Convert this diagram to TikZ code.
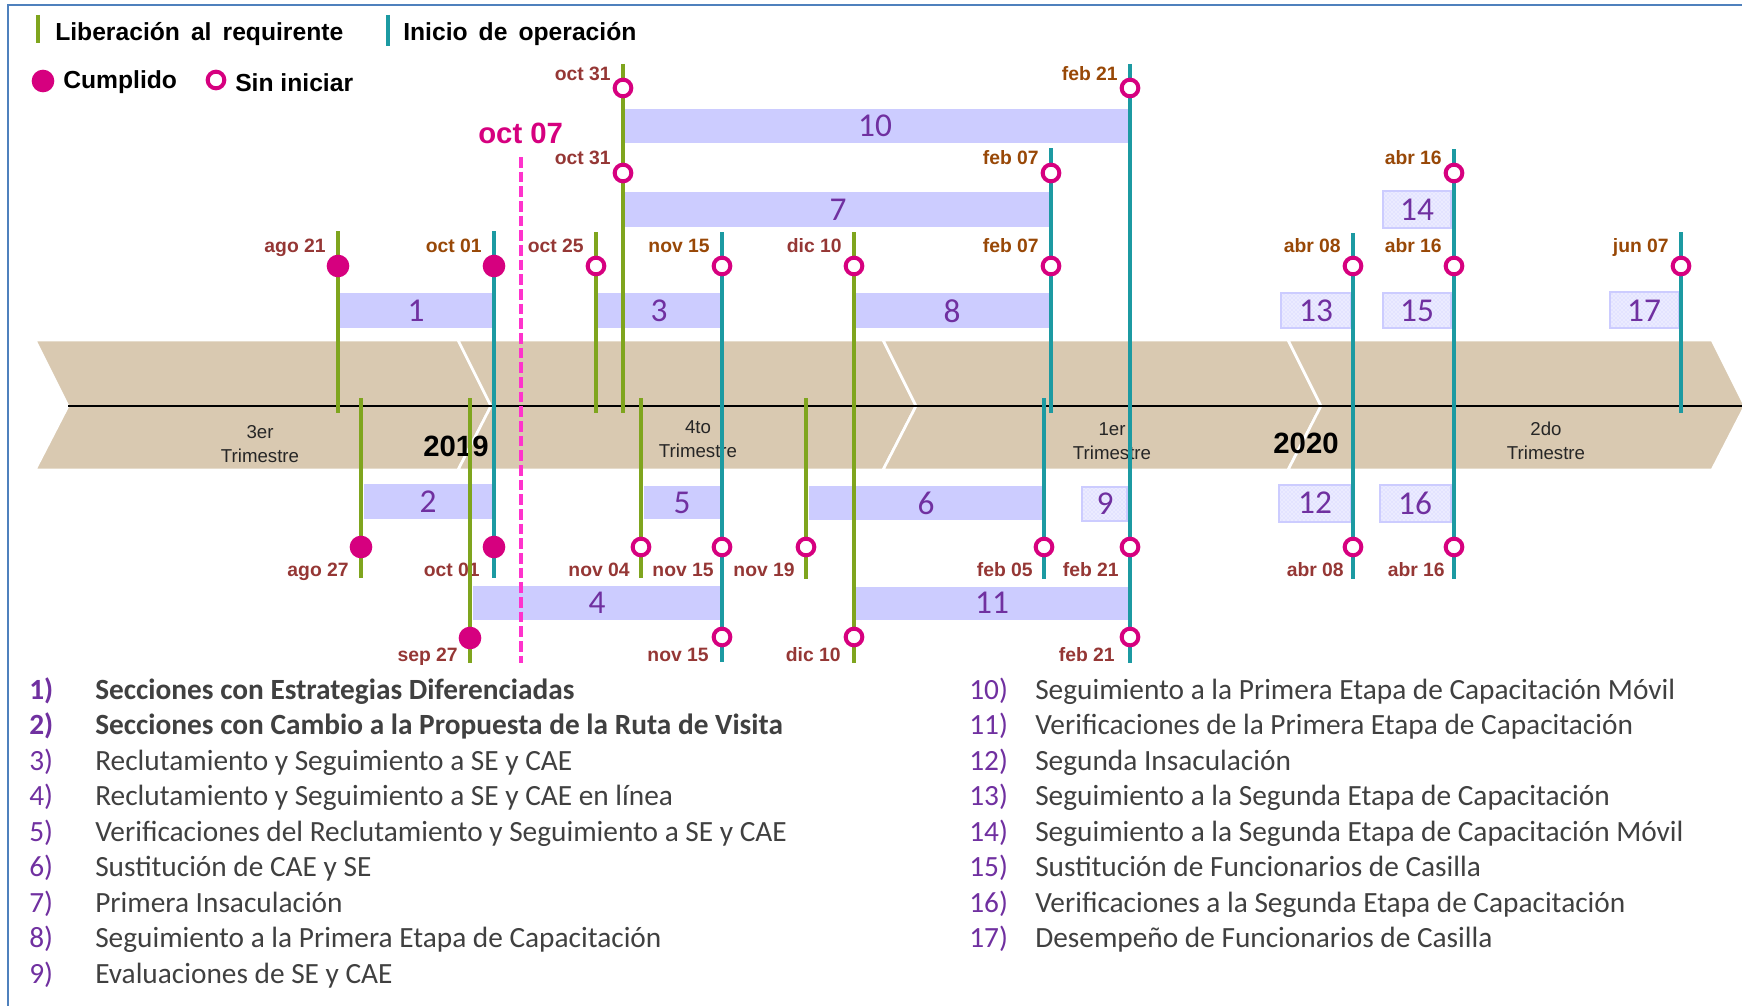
\documentclass[tikz,border=0pt]{standalone}
\usepackage{fontspec}
\setmainfont{Liberation Sans}
\newfontfamily\calib{Carlito}
\usetikzlibrary{patterns}
\definecolor{verde}{HTML}{7FA51E}
\definecolor{turq}{HTML}{1C9AA2}
\definecolor{rosa}{HTML}{D6007F}
\definecolor{rosaclaro}{HTML}{FF33CC}
\definecolor{lila}{HTML}{CCCCFF}
\definecolor{morado}{HTML}{7030A0}
\definecolor{cafe}{HTML}{953735}
\definecolor{naranja}{HTML}{984807}
\definecolor{arena}{HTML}{D9C9B1}
\definecolor{marco}{HTML}{4F81BD}
\newcommand{\nro}[1]{\makebox[49.5pt][l]{\color{morado}#1}}
\newcommand{\esp}{\ \hspace{0.17em}}
\tikzset{lib/.style={draw=verde,line width=3pt},ini/.style={draw=turq,line width=3pt},
hecho/.style={circle,fill=rosa,inner sep=0pt,minimum size=17pt},
pend/.style={circle,draw=rosa,fill=white,line width=3pt,inner sep=0pt,minimum size=12.5pt},
fecha/.style={font=\bfseries\fontsize{14.5}{16}\selectfont,text=cafe,anchor=base east,inner sep=0pt},
fechab/.style={fecha,text=naranja},
barra/.style={fill=lila},
caja/.style={fill=lila!40,draw=lila,line width=0.8pt,postaction={pattern=crosshatch dots,pattern color=lila}},
numb/.style={font=\calib\fontsize{25}{28}\selectfont,text=morado,inner sep=0pt},
trimst/.style={font=\fontsize{14}{18}\selectfont,text=black!85,align=center,anchor=base},
anio/.style={font=\bfseries\fontsize{22}{24}\selectfont,anchor=base,inner sep=0pt},
ley/.style={font=\bfseries\fontsize{18.5}{20}\selectfont,anchor=base west,inner sep=0pt},
elem/.style={font=\calib\fontsize{22}{26}\selectfont,text=black!75,anchor=base west,inner sep=0pt}}

\begin{document}
\begin{tikzpicture}[x=0.75pt,y=-0.75pt]
\useasboundingbox (0,0) rectangle (1742,1006);
\clip (0,0) rectangle (1742,1006);
\draw[marco,line width=1.2pt] (8,5) rectangle (1800,1100);
% leyenda
\draw[lib] (38,15)--(38,43); \node[ley] (l1) at (55,41) {Liberación\esp al\esp requirente};
\draw[ini] (388,15)--(388,46); \node[ley] (l2) at (403,41) {Inicio\esp de\esp operación};
\node[hecho] (l3) at (43,81) {}; \node[ley] (l4) at (63,89) {Cumplido};
\node[pend] (l5) at (216,80) {}; \node[ley] (l6) at (235,92) {Sin iniciar};
% banda de trimestres
\filldraw[arena,draw=white,line width=2pt] (35,340)--(458,340)--(491,406)--(458,470)--(35,470)--(68,406)--cycle;
\filldraw[arena,draw=white,line width=2pt] (458,340)--(883,340)--(916,406)--(883,470)--(458,470)--(491,406)--cycle;
\filldraw[arena,draw=white,line width=2pt] (883,340)--(1288,340)--(1321,406)--(1288,470)--(883,470)--(916,406)--cycle;
\filldraw[arena,draw=white,line width=2pt] (1288,340)--(1712,340)--(1745,406)--(1712,470)--(1288,470)--(1321,406)--cycle;
\node[trimst] (q3) at (260,462) {3er\\Trimestre};
\node[trimst] (q4) at (698,457) {4to\\Trimestre};
\node[trimst] (q1) at (1112,459) {1er\\Trimestre};
\node[trimst] (q2) at (1546,459) {2do\\Trimestre};
\node[anio] (a19) at (456,456) {2019}; \node[anio] (a20) at (1306,453) {2020};
\draw[black,line width=1.5pt] (68,406)--(1742,406);
% barras
\fill[barra] (624,109) rectangle (1128,143); \node[numb] (b10) at (875,126) {10};
\fill[barra] (624,192) rectangle (1049,227); \node[numb] (b7) at (838,210) {7};
\fill[barra] (340,293) rectangle (492,328); \node[numb] (b1) at (416,311) {1};
\fill[barra] (597,293) rectangle (720,328); \node[numb] (b3) at (659,311) {3};
\fill[barra] (856,293) rectangle (1049,328); \node[numb] (b8) at (952,311) {8};
\fill[barra] (364,484) rectangle (492,519); \node[numb] (b2) at (428,502) {2};
\fill[barra] (644,486) rectangle (721,519); \node[numb] (b5) at (682,503) {5};
\fill[barra] (809,486) rectangle (1042,520); \node[numb] (b6) at (926,503) {6};
\fill[barra] (473,586) rectangle (722,620); \node[numb] (b4) at (597,603) {4};
\fill[barra] (856,587) rectangle (1128,620); \node[numb] (b11) at (992,603) {11};
\draw[caja] (1082,487) rectangle (1127,521); \node[numb] (b9) at (1105,504) {9};
\draw[caja] (1279,485) rectangle (1351,522); \node[numb] (b12) at (1315,503) {12};
\draw[caja] (1281,293) rectangle (1351,328); \node[numb] (b13) at (1316,311) {13};
\draw[caja] (1383,191) rectangle (1451,228); \node[numb] (b14) at (1417,210) {14};
\draw[caja] (1383,293) rectangle (1451,328); \node[numb] (b15) at (1417,311) {15};
\draw[caja] (1380,485) rectangle (1451,522); \node[numb] (b16) at (1415,503) {16};
\draw[caja] (1610,292) rectangle (1679,328); \node[numb] (b17) at (1644,311) {17};
% fechas
\node[fecha] (f1) at (611,80) {oct 31}; \node[fechab] (f2) at (1118,80) {feb 21};
\node[fecha] (f3) at (611,164) {oct 31}; \node[fechab] (f4) at (1039,164) {feb 07}; \node[fechab] (f5) at (1442,164) {abr 16};
\node[fecha] (f6) at (326,252) {ago 21}; \node[fechab] (f7) at (482,252) {oct 01}; \node[fecha] (f8) at (584,252) {oct 25};
\node[fechab] (f9) at (710,252) {nov 15}; \node[fecha] (f10) at (842,252) {dic 10}; \node[fechab] (f11) at (1039,252) {feb 07};
\node[fechab] (f12) at (1341,252) {abr 08}; \node[fechab] (f13) at (1442,252) {abr 16}; \node[fechab] (f14) at (1669,252) {jun 07};
\node[fecha] (f15) at (349,576) {ago 27}; \node[fecha] (f16) at (480,576) {oct 01}; \node[fecha] (f17) at (630,576) {nov 04};
\node[fecha] (f18) at (714,576) {nov 15}; \node[fecha] (f19) at (795,576) {nov 19}; \node[fecha] (f20) at (1033,576) {feb 05};
\node[fecha] (f21) at (1119,576) {feb 21}; \node[fecha] (f22) at (1344,576) {abr 08}; \node[fecha] (f23) at (1445,576) {abr 16};
\node[fecha] (f24) at (458,661) {sep 27}; \node[fecha] (f25) at (709,661) {nov 15}; \node[fecha] (f26) at (841,661) {dic 10};
\node[fecha] (f27) at (1115,661) {feb 21};
% lineas de liberacion e inicio
\draw[lib] (338,231)--(338,413); \draw[lib] (596,232)--(596,413); \draw[lib] (623,64)--(623,413); \draw[lib] (854,232)--(854,663);
\draw[lib] (361,398)--(361,578); \draw[lib] (470,398)--(470,663); \draw[lib] (641,398)--(641,578); \draw[lib] (806,398)--(806,579);
\draw[ini] (494,231)--(494,578); \draw[ini] (722,232)--(722,662); \draw[ini] (1051,148)--(1051,413); \draw[ini] (1130,64)--(1130,663);
\draw[ini] (1353,233)--(1353,579); \draw[ini] (1454,149)--(1454,579); \draw[ini] (1681,232)--(1681,413); \draw[ini] (1044,398)--(1044,579);
% hitos
\node[pend] (h1) at (623,88) {}; \node[pend] (h2) at (1130,88) {};
\node[pend] (h3) at (623,173) {}; \node[pend] (h4) at (1051,173) {}; \node[pend] (h5) at (1454,173) {};
\node[hecho] (h6) at (338,266) {}; \node[hecho] (h7) at (494,266) {}; \node[pend] (h8) at (596,266) {};
\node[pend] (h9) at (722,266) {}; \node[pend] (h10) at (854,266) {}; \node[pend] (h11) at (1051,266) {};
\node[pend] (h12) at (1353,266) {}; \node[pend] (h13) at (1454,266) {}; \node[pend] (h14) at (1681,266) {};
\node[hecho] (h15) at (361,547) {}; \node[hecho] (h16) at (494,547) {}; \node[pend] (h17) at (641,547) {};
\node[pend] (h18) at (722,547) {}; \node[pend] (h19) at (806,547) {}; \node[pend] (h20) at (1044,547) {};
\node[pend] (h21) at (1130,547) {}; \node[pend] (h22) at (1353,547) {}; \node[pend] (h23) at (1454,547) {};
\node[hecho] (h24) at (470,638) {}; \node[pend] (h25) at (722,637) {}; \node[pend] (h26) at (854,637) {};
\node[pend] (h27) at (1130,637) {};
% fecha de corte
\node[anio,text=rosa,anchor=base west] (corte) at (478,143) {oct 07};
\draw[rosaclaro,line width=2.6pt,dash pattern=on 8pt off 3pt] (521,157)--(521,663);
% lista de actividades
\node[elem] (t1) at (29,699) {\bfseries\nro{1)}Secciones con Estrategias Diferenciadas};
\node[elem] (t2) at (29,734.5) {\bfseries\nro{2)}Secciones con Cambio a la Propuesta de la Ruta de Visita};
\node[elem] (t3) at (29,770) {\nro{3)}Reclutamiento y Seguimiento a SE y CAE};
\node[elem] (t4) at (29,805.5) {\nro{4)}Reclutamiento y Seguimiento a SE y CAE en línea};
\node[elem] (t5) at (29,841) {\nro{5)}Verificaciones del Reclutamiento y Seguimiento a SE y CAE};
\node[elem] (t6) at (29,876.5) {\nro{6)}Sustitución de CAE y SE};
\node[elem] (t7) at (29,912) {\nro{7)}Primera Insaculación};
\node[elem] (t8) at (29,947.5) {\nro{8)}Seguimiento a la Primera Etapa de Capacitación};
\node[elem] (t9) at (29,983) {\nro{9)}Evaluaciones de SE y CAE};
\node[elem] (t10) at (969,699) {\nro{10)}Seguimiento a la Primera Etapa de Capacitación Móvil};
\node[elem] (t11) at (969,734.5) {\nro{11)}Verificaciones de la Primera Etapa de Capacitación};
\node[elem] (t12) at (969,770) {\nro{12)}Segunda Insaculación};
\node[elem] (t13) at (969,805.5) {\nro{13)}Seguimiento a la Segunda Etapa de Capacitación};
\node[elem] (t14) at (969,841) {\nro{14)}Seguimiento a la Segunda Etapa de Capacitación Móvil};
\node[elem] (t15) at (969,876.5) {\nro{15)}Sustitución de Funcionarios de Casilla};
\node[elem] (t16) at (969,912) {\nro{16)}Verificaciones a la Segunda Etapa de Capacitación};
\node[elem] (t17) at (969,947.5) {\nro{17)}Desempeño de Funcionarios de Casilla};
\end{tikzpicture}
\end{document}
